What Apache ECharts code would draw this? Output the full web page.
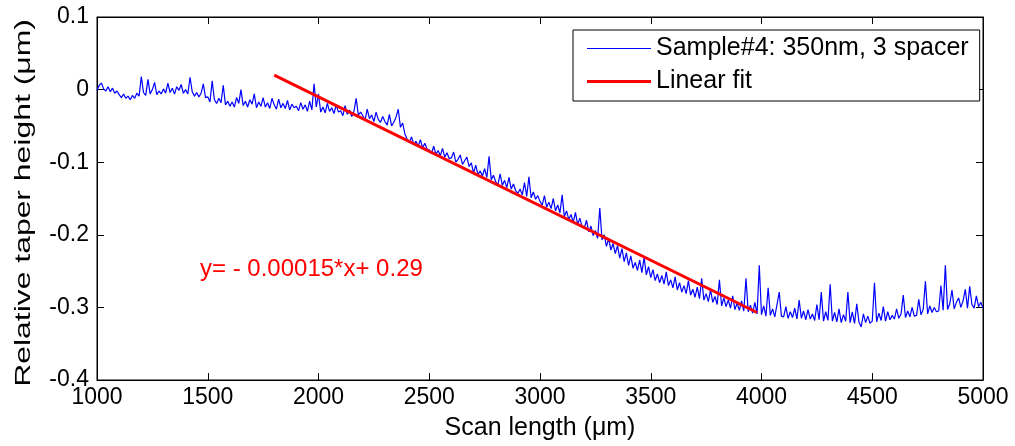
<!DOCTYPE html>
<html lang="en">

<head>
	<meta charset="UTF-8">
	<title>Taper height scan</title>
	<style>
		html, body { margin: 0; padding: 0; background: #fff; }
		#chart { width: 1015px; height: 446px; }
	</style>
</head>

<body>
	<div id="chart"></div>
	<script src="https://cdn.jsdelivr.net/npm/echarts@6/dist/echarts.min.js"></script>
	<script>
		// scan positions: 1000 um, every 10 um
		var scanStart = 1000
		var scanStep = 10
		// relative taper height (um), 10 values per row = 100 um
		var heights = [
			-0.001, 0.006, 0.009, 0.001, -0.002, 0.004, -0.003, 0.002, -0.005, -0.002,
			-0.007, -0.011, -0.006, -0.012, -0.009, -0.014, -0.008, -0.012, -0.005, -0.009,
			0.018, -0.004, -0.008, 0.014, -0.006, 0.000, 0.010, -0.007, -0.002, -0.006,
			0.001, -0.005, 0.009, -0.004, 0.002, -0.006, 0.004, -0.001, 0.007, -0.005,
			0.000, -0.006, 0.017, -0.003, -0.009, -0.004, -0.010, -0.005, 0.008, -0.011,
			-0.010, -0.017, 0.012, -0.014, -0.019, -0.012, -0.018, 0.006, -0.021, -0.016,
			-0.023, -0.017, -0.024, -0.011, -0.019, 0.000, -0.022, -0.016, -0.024, -0.014,
			-0.020, -0.006, -0.025, -0.017, -0.023, -0.011, -0.024, -0.018, -0.026, -0.012,
			-0.021, -0.027, -0.013, -0.025, -0.019, -0.026, -0.015, -0.028, -0.020, -0.025,
			-0.023, -0.029, -0.018, -0.027, -0.021, -0.030, -0.016, -0.028, 0.008, -0.024,
			-0.006, -0.031, -0.024, -0.032, -0.019, -0.030, -0.025, -0.033, -0.021, -0.031,
			-0.029, -0.036, -0.022, -0.034, -0.028, -0.037, -0.030, -0.012, -0.035, -0.031,
			-0.036, -0.042, -0.027, -0.040, -0.035, -0.044, -0.031, -0.041, -0.045, -0.037,
			-0.044, -0.049, -0.034, -0.050, -0.045, -0.038, -0.027, -0.052, -0.046, -0.061,
			-0.068, -0.073, -0.065, -0.076, -0.071, -0.078, -0.069, -0.080, -0.074, -0.082,
			-0.083, -0.088, -0.078, -0.089, -0.084, -0.091, -0.081, -0.093, -0.087, -0.095,
			-0.094, -0.086, -0.100, -0.096, -0.090, -0.103, -0.098, -0.093, -0.106, -0.101,
			-0.115, -0.104, -0.117, -0.112, -0.119, -0.109, -0.121, -0.092, -0.124, -0.118,
			-0.127, -0.131, -0.116, -0.132, -0.125, -0.135, -0.121, -0.137, -0.130, -0.139,
			-0.143, -0.137, -0.145, -0.128, -0.147, -0.120, -0.149, -0.141, -0.151, -0.146,
			-0.154, -0.159, -0.146, -0.162, -0.155, -0.164, -0.150, -0.167, -0.159, -0.170,
			-0.145, -0.175, -0.167, -0.179, -0.172, -0.183, -0.169, -0.186, -0.177, -0.189,
			-0.191, -0.180, -0.196, -0.188, -0.201, -0.194, -0.205, -0.163, -0.207, -0.200,
			-0.216, -0.205, -0.221, -0.212, -0.226, -0.215, -0.232, -0.219, -0.237, -0.225,
			-0.242, -0.229, -0.246, -0.238, -0.249, -0.235, -0.252, -0.231, -0.255, -0.244,
			-0.259, -0.248, -0.263, -0.254, -0.266, -0.256, -0.268, -0.251, -0.270, -0.262,
			-0.273, -0.258, -0.276, -0.266, -0.279, -0.270, -0.281, -0.263, -0.283, -0.275,
			-0.286, -0.272, -0.288, -0.260, -0.290, -0.281, -0.292, -0.276, -0.293, -0.285,
			-0.296, -0.262, -0.298, -0.287, -0.299, -0.290, -0.301, -0.284, -0.303, -0.294,
			-0.304, -0.291, -0.305, -0.260, -0.306, -0.297, -0.308, -0.293, -0.309, -0.242,
			-0.310, -0.298, -0.312, -0.273, -0.311, -0.302, -0.313, -0.296, -0.279, -0.312,
			-0.313, -0.299, -0.315, -0.306, -0.314, -0.301, -0.316, -0.290, -0.315, -0.305,
			-0.317, -0.303, -0.316, -0.309, -0.318, -0.296, -0.317, -0.279, -0.319, -0.306,
			-0.318, -0.268, -0.319, -0.307, -0.320, -0.302, -0.321, -0.310, -0.319, -0.279,
			-0.321, -0.306, -0.322, -0.295, -0.320, -0.327, -0.309, -0.321, -0.312, -0.322,
			-0.319, -0.266, -0.320, -0.308, -0.318, -0.299, -0.319, -0.306, -0.317, -0.311,
			-0.316, -0.302, -0.315, -0.309, -0.283, -0.314, -0.305, -0.313, -0.300, -0.312,
			-0.311, -0.289, -0.310, -0.303, -0.264, -0.309, -0.298, -0.307, -0.300, -0.306,
			-0.305, -0.270, -0.304, -0.242, -0.303, -0.295, -0.276, -0.302, -0.293, -0.287,
			-0.300, -0.291, -0.275, -0.301, -0.271, -0.296, -0.301, -0.284, -0.299, -0.293,
			-0.301
		]
		// linear fit y = -0.00015*x + 0.29, drawn between these ends
		var fitX = [1800, 3980]
		var fitY = [0.020, -0.307]

		var xTicks = [1000, 5000, 500]
		var yTicks = [-0.4, 0.1, 0.1]

		var sampleName = 'Sample#4: 350nm, 3 spacer'
		var fitName = 'Linear fit'
		var fitLabel = 'y= - 0.00015*x+ 0.29'
		var xName = 'Scan length (\u03bcm)'
		var yName = 'Relative taper height (\u03bcm)'

		var font = '"Liberation Sans", Arial, Helvetica, sans-serif'

		var scanData = heights.map(function (h, i) {
			return [scanStart + i * scanStep, h]
		})
		var fitData = fitX.map(function (x, i) {
			return [x, fitY[i]]
		})

		function axisX(pos, labels) {
			return {
				type: 'value',
				position: pos,
				min: xTicks[0],
				max: xTicks[1],
				interval: xTicks[2],
				name: labels ? xName : '',
				nameLocation: 'middle',
				nameGap: 36,
				nameTextStyle: { color: '#000', fontSize: 25, fontFamily: font },
				axisLine: { show: true, onZero: false, lineStyle: { color: '#000', width: 1 } },
				axisTick: { show: true, inside: true, length: 7, lineStyle: { color: '#000' } },
				axisLabel: {
					show: labels, color: '#000', fontSize: 23, fontFamily: font, margin: 6,
					formatter: function (v) { return String(v) }
				},
				splitLine: { show: false }
			}
		}

		function axisY(pos, labels) {
			return {
				type: 'value',
				position: pos,
				min: yTicks[0],
				max: yTicks[1],
				interval: yTicks[2],
				axisLine: { show: true, onZero: false, lineStyle: { color: '#000', width: 1 } },
				axisTick: { show: true, inside: true, length: 7, lineStyle: { color: '#000' } },
				axisLabel: {
					show: labels, color: '#000', fontSize: 23, fontFamily: font, margin: 8,
					formatter: function (v) { return String(+v.toFixed(1)) }
				},
				splitLine: { show: false }
			}
		}

		var chart = echarts.init(document.getElementById('chart'))
		var option = {
			animation: false,
			backgroundColor: '#fff',
			grid: {
				left: 97, right: 32, top: 17, bottom: 63,
				show: true, borderColor: '#000', borderWidth: 1,
				backgroundColor: 'transparent'
			},
			xAxis: [axisX('bottom', true), axisX('top', false)],
			yAxis: [axisY('left', true), axisY('right', false)],
			legend: {
				orient: 'vertical',
				left: 573,
				top: 30,
				padding: [6, 11, 7, 14],
				itemGap: 8,
				itemWidth: 64,
				itemHeight: 14,
				borderColor: '#000',
				borderWidth: 1,
				backgroundColor: '#fff',
				textStyle: { color: '#000', fontSize: 25, fontFamily: font, lineHeight: 24 },
				data: [
					{ name: sampleName, icon: 'path://M0,6H64V7H0Z', itemStyle: { color: '#0000ff' } },
					{ name: fitName, icon: 'path://M0,5H64V8H0Z', itemStyle: { color: '#ff0000' } }
				]
			},
			graphic: [{
				type: 'text',
				left: 200,
				top: 257,
				style: {
					text: fitLabel,
					fill: '#ff0000',
					font: '24px ' + font
				}
			}, {
				// y axis title, drawn by hand (the original one is stretched along its length)
				type: 'text',
				x: 24,
				y: 203,
				rotation: Math.PI / 2,
				scaleX: 1.45,
				style: {
					text: yName,
					fill: '#000',
					font: '22px ' + font,
					align: 'center',
					verticalAlign: 'middle'
				}
			}],
			series: [{
				name: sampleName,
				type: 'line',
				xAxisIndex: 0,
				yAxisIndex: 0,
				data: scanData,
				showSymbol: false,
				symbol: 'none',
				lineStyle: { color: '#0000ff', width: 1.2 },
				itemStyle: { color: '#0000ff' },
				z: 2
			}, {
				name: fitName,
				type: 'line',
				xAxisIndex: 0,
				yAxisIndex: 0,
				data: fitData,
				showSymbol: false,
				symbol: 'none',
				lineStyle: { color: '#ff0000', width: 3 },
				itemStyle: { color: '#ff0000' },
				z: 3
			}]
		}
		chart.setOption(option)
	</script>
</body>

</html>
